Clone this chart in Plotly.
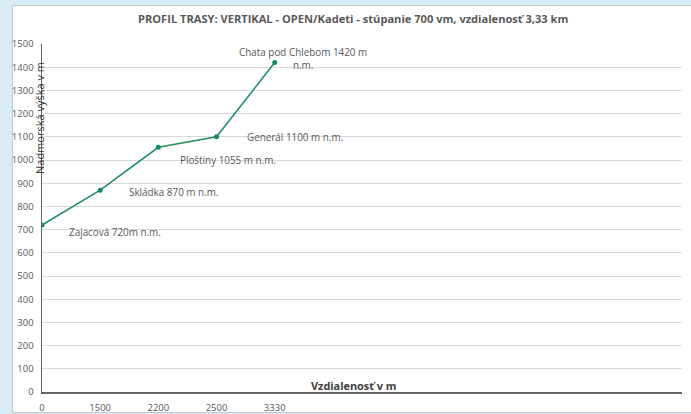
import plotly.graph_objects as go

# ---- data ----
distances = ["0", "1500", "2200", "2500", "3330"]
elevations = [720, 870, 1055, 1100, 1420]
point_labels = [
    "Zajacová 720m n.m.",
    "Skládka 870 m n.m.",
    "Ploštiny 1055 m n.m.",
    "Generál 1100 m n.m.",
    "Chata pod Chlebom 1420 m<br>n.m.",
]
y_ticks = list(range(0, 1501, 100))

title_text = "PROFIL TRASY: VERTIKAL - OPEN/Kadeti - stúpanie 700 vm, vzdialenosť 3,33 km"
x_title = "Vzdialenosť v m"
y_title = "Nadmorská výška v m"

# label offsets (pixels) relative to each point
label_shifts = [(73, -7), (73, -2), (70, -13), (78, 0), (28, 4)]

FONT = "Open Sans"
GREY = "#595959"

xs = list(range(len(distances)))

fig = go.Figure()
fig.add_trace(go.Scatter(
    x=xs, y=elevations, mode="lines+markers",
    line=dict(color="#23905e", width=1.6),
    marker=dict(color="#138a60", size=5),
    hoverinfo="skip", showlegend=False,
))

annotations = []
for xi, yv, txt, (dx, dy) in zip(xs, elevations, point_labels, label_shifts):
    annotations.append(dict(
        x=xi, y=yv, xref="x", yref="y", text=txt, showarrow=False,
        xshift=dx, yshift=dy, align="center",
        font=dict(family=FONT, size=9.9, color=GREY),
    ))

L, R, T, B = 42, 9, 44, 22
W, H = 691, 414
pw, ph = W - L - R, H - T - B


def px_x(p):
    return (p - L) / pw


def px_y(p):
    return (H - B - p) / ph


annotations.append(dict(
    x=px_x(353), y=px_y(19), xref="paper", yref="paper", text="<b>" + title_text + "</b>",
    showarrow=False, font=dict(family=FONT, size=11.1, color=GREY),
    xanchor="center", yanchor="middle",
))
annotations.append(dict(
    x=px_x(354), y=px_y(385), xref="paper", yref="paper", text="<b>" + x_title + "</b>",
    showarrow=False, font=dict(family=FONT, size=10.9, color="#404040"),
    xanchor="center", yanchor="middle",
))
annotations.append(dict(
    x=px_x(39), y=px_y(118), xref="paper", yref="paper", text=y_title,
    showarrow=False, textangle=-90, font=dict(family=FONT, size=11, color="#3a3a3a"),
    xanchor="center", yanchor="middle",
))

shapes = [dict(
    type="rect", xref="paper", yref="paper",
    x0=px_x(12.5), x1=px_x(700), y0=px_y(412.5), y1=px_y(5.5),
    fillcolor="white", line=dict(color="#c8c8c8", width=1), layer="below",
)]

fig.update_layout(
    width=W, height=H,
    margin=dict(l=L, r=R, t=T, b=B, autoexpand=False),
    paper_bgcolor="#d8ecf8",
    plot_bgcolor="rgba(0,0,0,0)",
    annotations=annotations,
    shapes=shapes,
    font=dict(family=FONT, color=GREY),
)
fig.update_xaxes(
    range=[0, 11], tickmode="array", tickvals=xs, ticktext=distances,
    showgrid=False, zeroline=False, showline=True, linecolor="#666666", linewidth=1.5,
    ticks="", tickfont=dict(family=FONT, size=9.5, color=GREY), ticklabelstandoff=6,
    automargin=False,
)
fig.update_yaxes(
    range=[0, 1500], tickmode="array", tickvals=y_ticks,
    showgrid=True, gridcolor="#d9d9d9", gridwidth=1, zeroline=False,
    showline=True, linecolor="#666666", linewidth=1.5,
    ticks="", tickfont=dict(family=FONT, size=9.5, color=GREY), ticklabelstandoff=5,
    automargin=False,
)

fig.write_html(
    "out.html",
    config={"displayModeBar": False, "staticPlot": True},
    post_script="document.body.style.margin='0';document.documentElement.style.overflow='hidden';",
)
